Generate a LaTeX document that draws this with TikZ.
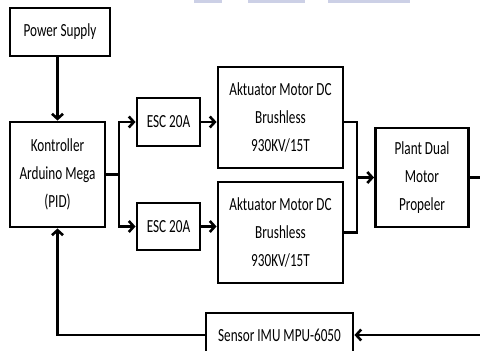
\documentclass[tikz,border=0pt]{standalone}
\usepackage{graphicx}
\usepackage{fontspec}
\setmainfont{Carlito}
\usetikzlibrary{arrows.meta}
\definecolor{faint}{RGB}{204,208,230}
\newcommand{\tall}[1]{\scalebox{1}[1.4]{#1}}
\tikzset{
  blok/.style={draw, line width=2.9pt, align=center, inner sep=0pt,
    font=\fontsize{13.2}{28}\selectfont},
  garis/.style={line width=2.9pt},
  panah/.style={line width=2.9pt, -{Straight Barb[length=5pt,width=11pt,line width=2.6pt]}}
}
\begin{document}
\begin{tikzpicture}[x=1pt,y=-1pt]
    \useasboundingbox (0,0) rectangle (480,351);
    % faint bars at top
    \fill[faint] (194,0) rectangle (222,3);\fill[faint] (248,0) rectangle (305,3);\fill[faint] (328,0) rectangle (410,3);
    % blocks
    \node[blok, minimum width=100, minimum height=48] (ps) at (60,32) {\tall{Power Supply}};
    \node[blok, minimum width=95, minimum height=105] (kon) at (57.5,174.5) {\tall{Kontroller}\\\tall{Arduino Mega}\\\tall{(PID)}};
    \node[blok, minimum width=63, minimum height=48] (esc1) at (168.5,122) {\tall{ESC 20A}};
    \node[blok, minimum width=63, minimum height=47] (esc2) at (168.5,226.5) {\tall{ESC 20A}};
    \node[blok, minimum width=125, minimum height=101] (act1) at (280.5,117.5) {\tall{Aktuator Motor DC}\\\tall{Brushless}\\\tall{930KV/15T}};
    \node[blok, minimum width=125, minimum height=101] (act2) at (280.5,232.5) {\tall{Aktuator Motor DC}\\\tall{Brushless}\\\tall{930KV/15T}};
    \node[blok, minimum width=93, minimum height=99] (plant) at (422,177.5) {\tall{Plant Dual}\\\tall{Motor}\\\tall{Propeler}};
    \node[blok, minimum width=147, minimum height=44] (sen) at (279.5,335) {\tall{Sensor IMU MPU-6050}};
    % points
    \coordinate (sp) at (119,174.5);
    \coordinate (jn) at (357,177.5);
    \coordinate (ka) at (492,177.5);
    \coordinate (kb) at (492,335);
    % lines
    \draw[panah] (ps.south -| kon.north) -- (kon.north);
    \draw[garis] (kon.east) -- (sp);
    \draw[panah] (sp) |- (esc1.west);\draw[panah] (sp) |- (esc2.west);
    \draw[panah] (esc1.east) -- (esc1.east -| act1.west);
    \draw[panah] (esc2.east) -- (esc2.east -| act2.west);
    \draw[garis] (act1.east |- esc1) -| (jn);\draw[garis] (act2.east) -| (jn);
    \draw[panah] (jn) -- (plant.west);
    \draw[garis] (plant.east) -- (ka) -- (kb);
    \draw[panah] (kb) -- (sen.east);
    \draw[panah] (sen.west) -| (kon.south);
\end{tikzpicture}
\end{document}
